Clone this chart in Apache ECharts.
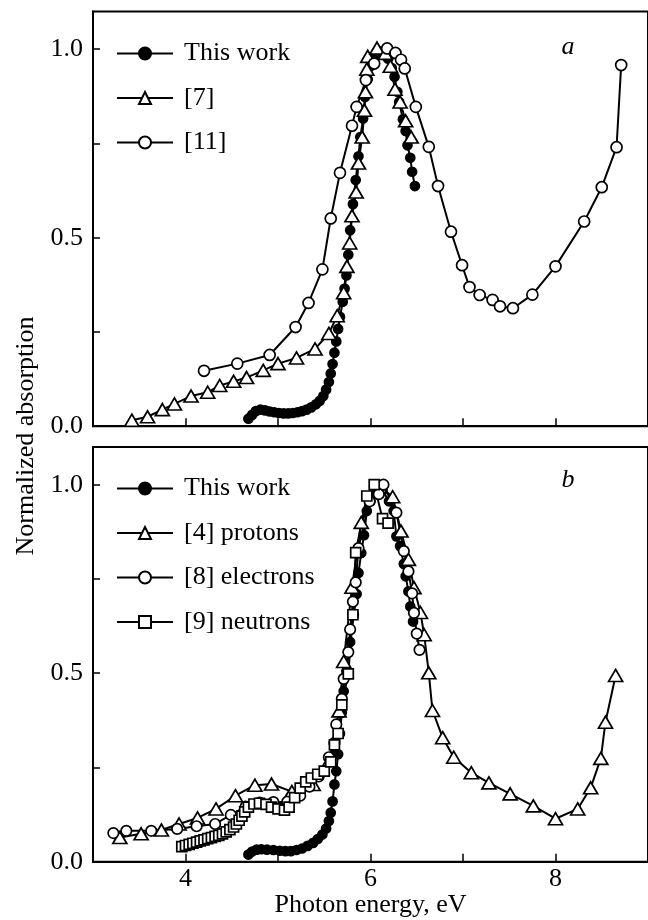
<!DOCTYPE html>
<html>
<head>
<meta charset="utf-8">
<script src="https://cdn.jsdelivr.net/npm/echarts@6/dist/echarts.min.js"></script>
<style>
html,body{margin:0;padding:0;background:#fff;}
#chart{width:648px;height:920px;}
</style>
</head>
<body>
<div id="chart"></div>
<script>
// ---------- DATA (photon energy eV, normalized absorption) ----------
const xTickLabels = [4, 6, 8];
const xTicks = [4, 5, 6, 7, 8];
const yTickLabels = [0, 0.5, 1.0];
const yTicks = [0, 0.25, 0.5, 0.75, 1.0];

// Panel a
const aThisWork = [
  [4.68,0.020],[4.72,0.030],[4.76,0.040],[4.81,0.044],[4.86,0.042],[4.91,0.039],[4.96,0.037],
  [5.01,0.035],[5.06,0.034],[5.11,0.034],[5.16,0.035],[5.21,0.037],[5.26,0.040],[5.31,0.044],
  [5.36,0.050],[5.41,0.058],[5.45,0.067],[5.49,0.080],[5.52,0.097],[5.55,0.117],[5.57,0.140],
  [5.59,0.165],[5.61,0.195],[5.63,0.225],[5.65,0.258],[5.67,0.290],[5.70,0.330],[5.72,0.365],
  [5.74,0.400],[5.76,0.455],[5.78,0.520],[5.81,0.589],[5.84,0.653],[5.87,0.716],[5.89,0.767],
  [5.92,0.816],[5.94,0.873],[5.97,0.920],[6.00,0.955],[6.04,0.980],[6.09,0.995],[6.14,0.985],
  [6.19,0.975],[6.23,0.950],[6.26,0.927],[6.29,0.887],[6.31,0.860],[6.35,0.814],[6.38,0.783],
  [6.40,0.745],[6.43,0.712],[6.45,0.675],[6.48,0.637]
];
const aRef7 = [
  [3.42,0.016],[3.59,0.025],[3.75,0.044],[3.88,0.059],[4.06,0.080],[4.24,0.090],[4.37,0.108],
  [4.52,0.119],[4.66,0.129],[4.84,0.148],[5.00,0.166],[5.20,0.181],[5.40,0.205],[5.55,0.246],
  [5.64,0.293],[5.71,0.354],[5.745,0.424],[5.775,0.486],[5.80,0.558],[5.845,0.621],[5.87,0.698],
  [5.91,0.767],[5.935,0.838],[5.945,0.887],[5.96,0.947],[5.97,0.981],[6.07,1.003],[6.16,0.989],
  [6.215,0.955],[6.265,0.894],[6.32,0.860],[6.38,0.810],[6.44,0.767]
];
const aRef11 = [
  [4.20,0.147],[4.56,0.166],[4.91,0.189],[5.19,0.263],[5.33,0.327],[5.48,0.416],[5.57,0.551],
  [5.67,0.672],[5.80,0.797],[5.85,0.847],[5.95,0.918],[6.04,0.962],[6.18,1.002],[6.27,0.990],
  [6.33,0.972],[6.37,0.949],[6.49,0.847],[6.63,0.741],[6.73,0.637],[6.87,0.516],[6.99,0.427],
  [7.07,0.369],[7.18,0.348],[7.32,0.335],[7.40,0.318],[7.54,0.313],[7.75,0.349],[8.00,0.424],
  [8.31,0.543],[8.50,0.634],[8.66,0.740],[8.71,0.958]
];

// Panel b
const bThisWork = [
  [4.68,0.019],[4.72,0.027],[4.77,0.032],[4.82,0.033],[4.88,0.032],[4.95,0.031],[5.02,0.029],
  [5.08,0.028],[5.14,0.028],[5.20,0.031],[5.26,0.035],[5.32,0.042],[5.38,0.050],[5.43,0.060],
  [5.48,0.072],[5.52,0.088],[5.55,0.108],[5.57,0.130],[5.59,0.160],[5.61,0.205],[5.63,0.240],
  [5.65,0.285],[5.67,0.340],[5.69,0.395],[5.71,0.452],[5.74,0.505],[5.78,0.583],[5.82,0.655],
  [5.85,0.710],[5.87,0.766],[5.90,0.819],[5.93,0.866],[5.96,0.930],[6.00,0.956],[6.06,0.975],
  [6.13,0.985],[6.20,0.956],[6.25,0.930],[6.28,0.863],[6.32,0.837],[6.36,0.790],[6.38,0.757],
  [6.41,0.717],[6.43,0.677],[6.46,0.637]
];
const bProtons = [
  [3.29,0.064],[3.52,0.074],[3.74,0.084],[3.93,0.100],[4.13,0.116],[4.33,0.140],[4.54,0.175],
  [4.75,0.203],[4.93,0.206],[5.15,0.186],[5.38,0.205],[5.56,0.270],[5.66,0.400],[5.71,0.531],
  [5.80,0.728],[5.90,0.900],[6.10,0.995],[6.24,0.968],[6.33,0.877],[6.41,0.802],[6.47,0.727],
  [6.54,0.661],[6.58,0.602],[6.63,0.501],[6.67,0.401],[6.78,0.329],[6.90,0.277],[7.09,0.236],
  [7.28,0.209],[7.51,0.180],[7.76,0.148],[8.00,0.114],[8.24,0.140],[8.38,0.196],[8.49,0.274],
  [8.54,0.370],[8.65,0.494]
];
const bElectrons = [
  [3.22,0.076],[3.36,0.082],[3.63,0.082],[3.91,0.087],[4.12,0.094],[4.32,0.100],[4.49,0.124],
  [4.65,0.146],[4.80,0.157],[4.95,0.158],[5.10,0.159],[5.24,0.175],[5.34,0.199],[5.44,0.226],
  [5.55,0.277],[5.61,0.315],[5.63,0.364],[5.69,0.432],[5.71,0.485],[5.76,0.556],[5.78,0.616],
  [5.81,0.690],[5.84,0.741],[5.87,0.832],[5.99,0.956],[6.09,0.975],[6.14,1.000],[6.28,0.926],
  [6.36,0.824],[6.41,0.770],[6.45,0.712],[6.47,0.660],[6.50,0.605],[6.53,0.562]
];
const bNeutrons = [
  [3.96,0.040],[4.00,0.043],[4.04,0.046],[4.08,0.049],[4.12,0.052],[4.16,0.055],[4.20,0.058],
  [4.24,0.061],[4.28,0.064],[4.32,0.067],[4.36,0.070],[4.40,0.074],[4.44,0.079],[4.48,0.085],
  [4.52,0.092],[4.55,0.100],[4.58,0.110],[4.61,0.121],[4.64,0.132],[4.68,0.145],[4.74,0.153],
  [4.80,0.155],[4.87,0.152],[4.93,0.145],[5.00,0.140],[5.07,0.137],[5.12,0.145],[5.18,0.170],
  [5.24,0.195],[5.30,0.212],[5.36,0.222],[5.43,0.232],[5.50,0.240],[5.57,0.265],[5.61,0.310],
  [5.65,0.340],[5.69,0.416],[5.76,0.498],[5.81,0.655],[5.84,0.820],[5.96,0.970],[6.04,1.000],
  [6.13,0.910],[6.19,0.898]
];

// ---------- CHART ----------
const SERIF = '"Liberation Serif", "DejaVu Serif", serif';
const FS = 26;
const chart = echarts.init(document.getElementById('chart'), null, {renderer: 'canvas'});

function xAx(gridIndex, showLabels) {
  return {
    type: 'value', gridIndex, min: 3, max: 9, interval: 1,
    axisLine: {show: true, onZero: false, lineStyle: {color: '#000', width: 2}},
    axisTick: {show: true, inside: true, length: 8, customValues: xTicks, lineStyle: {color: '#000', width: 1.5}},
    axisLabel: {show: showLabels, customValues: xTickLabels, margin: 4,
      color: '#000', fontFamily: SERIF, fontSize: FS},
    splitLine: {show: false},
    name: showLabels ? 'Photon energy, eV' : '',
    nameLocation: 'middle', nameGap: 27,
    nameTextStyle: {color: '#000', fontFamily: SERIF, fontSize: FS}
  };
}
function yAx(gridIndex) {
  return {
    type: 'value', gridIndex, min: 0, max: 1.1, interval: 0.25,
    axisLine: {show: true, onZero: false, lineStyle: {color: '#000', width: 2}},
    axisTick: {show: true, inside: true, length: 7, customValues: yTicks, lineStyle: {color: '#000', width: 1.5}},
    axisLabel: {show: true, customValues: yTickLabels, margin: 10,
      formatter: v => v.toFixed(1),
      color: '#000', fontFamily: SERIF, fontSize: FS},
    splitLine: {show: false}
  };
}
function ser(name, data, idx, symbol, size, filled) {
  return {
    type: 'line', name, data, xAxisIndex: idx, yAxisIndex: idx,
    symbol, symbolSize: size, showAllSymbol: true,
    lineStyle: {color: '#000', width: 2},
    itemStyle: {color: filled ? '#000' : '#fff', borderColor: '#000', borderWidth: 1.7},
    emphasis: {disabled: true}, silent: true
  };
}
const legendCommon = {
  orient: 'vertical', left: 116, padding: 0, selectedMode: false,
  itemWidth: 56, itemHeight: 15, itemGap: 18.5,
  textStyle: {color: '#000', fontFamily: SERIF, fontSize: FS, lineHeight: 26, padding: [0, 0, 0, 6]}
};

chart.setOption({
  animation: false,
  backgroundColor: '#fff',
  grid: [
    {left: 93, width: 558, top: 11.5, height: 414.7, show: true, borderColor: '#000', borderWidth: 2, containLabel: false},
    {left: 93, width: 558, top: 447, height: 414.7, show: true, borderColor: '#000', borderWidth: 2, containLabel: false}
  ],
  xAxis: [xAx(0, false), xAx(1, true)],
  yAxis: [yAx(0), yAx(1)],
  legend: [
    Object.assign({}, legendCommon, {top: 40.5, data: ['This work', '[7]', '[11]']}),
    Object.assign({}, legendCommon, {top: 475.5, data: ['This work', '[4] protons', '[8] electrons', '[9] neutrons']})
  ],
  graphic: [
    {type: 'text', x: 26, y: 436, rotation: Math.PI / 2,
     style: {text: 'Normalized absorption', fill: '#000', fontFamily: SERIF, fontSize: FS, align: 'center', verticalAlign: 'middle'}},
    {type: 'text', x: 568, y: 47,
     style: {text: 'a', fill: '#000', fontFamily: SERIF, fontSize: FS, fontStyle: 'italic', align: 'center', verticalAlign: 'middle'}},
    {type: 'text', x: 568, y: 480,
     style: {text: 'b', fill: '#000', fontFamily: SERIF, fontSize: FS, fontStyle: 'italic', align: 'center', verticalAlign: 'middle'}}
  ],
  series: [
    ser('This work', aThisWork, 0, 'circle', 9, true),
    ser('[7]', aRef7, 0, 'triangle', [14, 12], false),
    ser('[11]', aRef11, 0, 'circle', 11, false),
    ser('This work', bThisWork, 1, 'circle', 9, true),
    ser('[4] protons', bProtons, 1, 'triangle', [14, 12], false),
    ser('[8] electrons', bElectrons, 1, 'circle', 10.5, false),
    ser('[9] neutrons', bNeutrons, 1, 'rect', 10, false)
  ]
});
</script>
</body>
</html>
